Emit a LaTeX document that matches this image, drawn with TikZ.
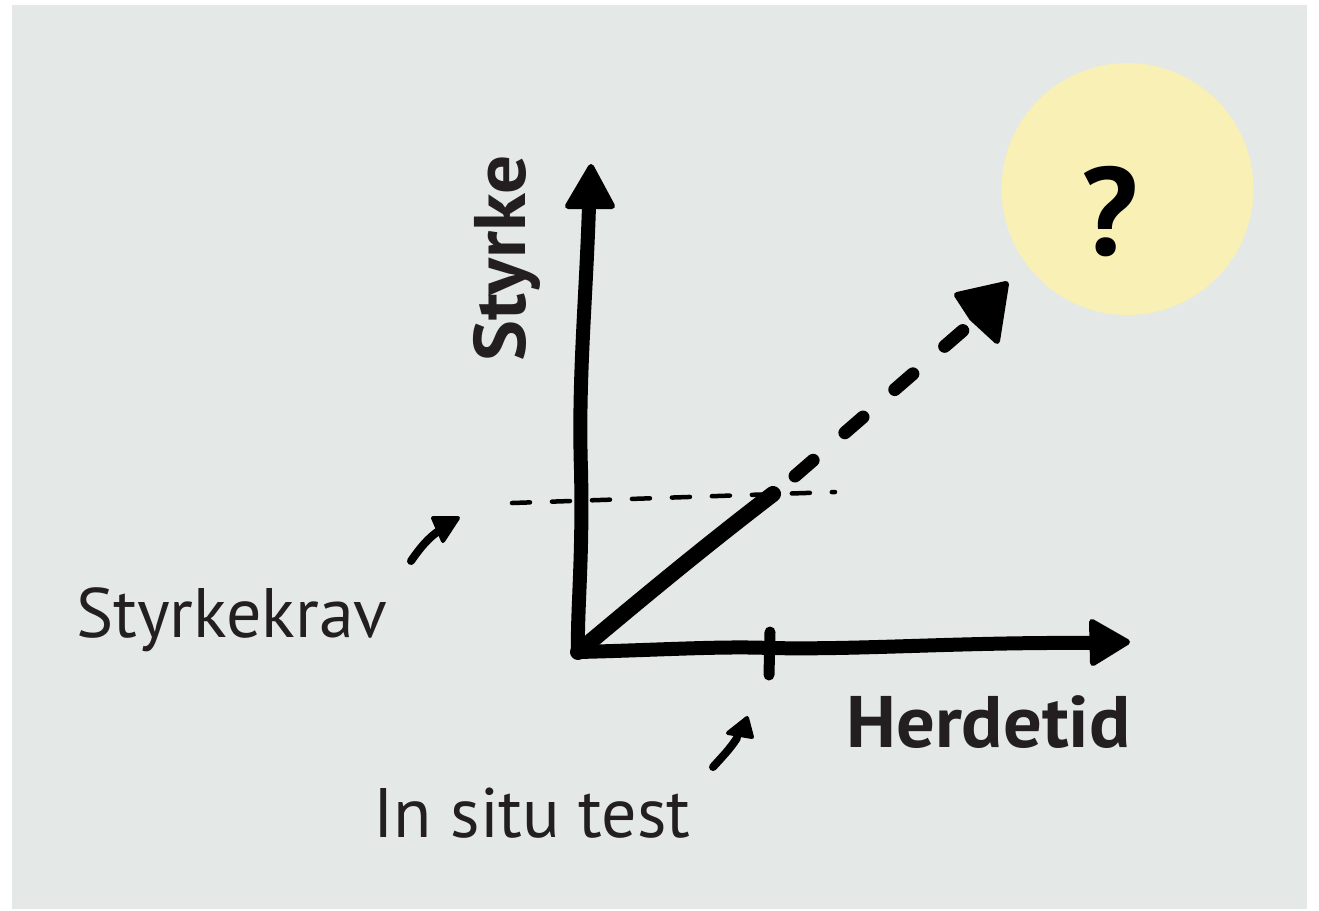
\documentclass[tikz,border=0pt]{standalone}
\usepackage{fontspec}
\setmainfont{PT Sans}
\definecolor{panel}{HTML}{E4E8E7}
\definecolor{bulb}{HTML}{F8F0B4}
\definecolor{txt}{HTML}{231F20}
\begin{document}
\begin{tikzpicture}[x=1pt,y=-1pt,
  ink/.style={draw=black,line width=14pt,line cap=round,line join=round},
  head/.style={fill=black,draw=black,line width=6pt,line join=round},
  thin/.style={draw=black,line width=4.5pt,line cap=round},
  lbl/.style={text=txt,inner sep=0pt,font=\fontsize{70}{80}\selectfont},
  boldlbl/.style={text=txt,inner sep=0pt,font=\fontsize{73}{80}\selectfont\bfseries}]
\useasboundingbox (0,0) rectangle (1319,910);
\fill[panel] (12,5) rectangle (1307,909);

% the open question
\fill[bulb] (1127.5,189) circle (126);
\node[text=black,inner sep=0pt,font=\fontsize{125}{125}\selectfont\bfseries] (q) at (1110,212) {?};

% key points of the chart
\coordinate (O) at (578,652);
\coordinate (ytop) at (589,206);
\coordinate (xend) at (1092,643);
\coordinate (hit) at (773,494);
\coordinate (dstart) at (795,476);
\coordinate (dend) at (975,320);

% axes
\draw[ink] (ytop) .. controls (586,300) and (578,380) .. (581,470)
  .. controls (583,560) and (577,610) .. (O)
  .. controls (660,650) and (720,646) .. (770,648)
  .. controls (860,650) and (960,642) .. (xend);
\draw[head] (591,167) -- (568,206) -- (612,206) -- cycle;
\draw[head] (1127,642) -- (1092,622) -- (1093,663) -- cycle;
% tick on the time axis
\draw[draw=black,line width=11pt,line cap=round] (770,632) -- (769,675);

% required strength
\draw[thin,dash pattern=on 18pt off 22pt] (512,503) -- (835,492);

% measured growth and extrapolation
\draw[draw=black,line width=16pt,line cap=round] (O) .. controls (640,600) and (700,550) .. (hit);
\draw[draw=black,line width=13pt,line cap=round,dash pattern=on 24pt off 42pt] (dstart) -- (dend);
\draw[head] (1006,284) -- (957,295) -- (972,318) -- (997,341) -- cycle;

% labels
\node[boldlbl,rotate=90,xscale=1.06,anchor=base west] (ylab) at (525,362) {Styrke};
\node[boldlbl,xscale=1.05,anchor=base west] (xlab) at (846,747) {Herdetid};
\node[lbl,anchor=base west] (req) at (76,637) {Styrkekrav};
\node[lbl,anchor=base west] (test) at (373,837) {In situ test};

% pointers
\coordinate (p1) at (411,561);
\coordinate (p2) at (713,767);
\draw[draw=black,line width=8pt,line cap=round] (p1) .. controls (420,548) and (428,538) .. (440,530);
\draw[head,line width=4pt] (458,518) -- (433,518) -- (443,541) -- cycle;
\draw[draw=black,line width=8pt,line cap=round] (p2) .. controls (722,757) and (730,749) .. (737,738);
\draw[head,line width=4pt] (747,718) -- (728,733) -- (752,737) -- cycle;
\end{tikzpicture}
\end{document}
